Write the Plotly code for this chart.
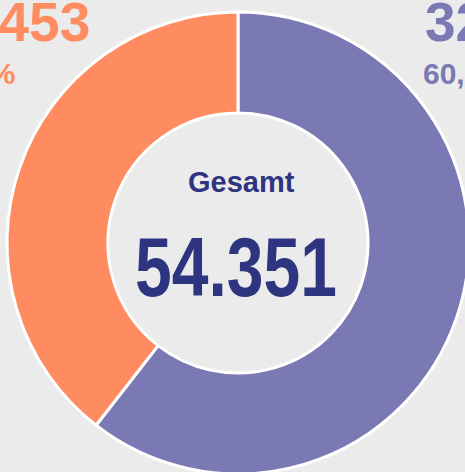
import plotly.graph_objects as go

labels = ["Gruppe A", "Gruppe B"]
values = [32898, 21453]
value_text = ["32.898", "21.453"]
pct_text = ["60,5 %", "39,5 %"]
colors = ["#7b79b3", "#ff8c61"]
total_text = "54.351"
center_title = "Gesamt"

W, H = 480, 480  # page is clipped to the 465x472 window

def px(p):
    return p / W

def py(p):
    return 1 - p / H

fig = go.Figure()
fig.add_trace(go.Pie(
    labels=labels, values=values, sort=False, direction="clockwise", rotation=0,
    hole=0.563, textinfo="none", hoverinfo="label+value+percent",
    marker=dict(colors=colors, line=dict(color="white", width=3)),
    domain=dict(x=[px(7), px(469)], y=[py(474), py(12)]),
    showlegend=False,
))

font_b = "Liberation Sans, Arial, sans-serif"

ann = []
ann.append(dict(text="<b>%s</b>" % center_title, x=px(241), y=py(182), xref="paper", yref="paper",
                xanchor="center", yanchor="middle", showarrow=False,
                font=dict(family=font_b, size=29, color="#2e3580")))
ann.append(dict(text="<b>%s</b>" % total_text, x=px(236), y=py(267), xref="paper", yref="paper",
                xanchor="center", yanchor="middle", showarrow=False,
                font=dict(family=font_b, size=66, color="#2e3580")))
# purple labels (right, left aligned)
ann.append(dict(text="<b>%s</b>" % value_text[0], x=px(423), y=py(22), xref="paper", yref="paper",
                xanchor="left", yanchor="middle", showarrow=False,
                font=dict(family=font_b, size=55, color=colors[0])))
ann.append(dict(text="<b>%s</b>" % pct_text[0], x=px(421), y=py(73), xref="paper", yref="paper",
                xanchor="left", yanchor="middle", showarrow=False,
                font=dict(family=font_b, size=30, color=colors[0])))
# orange labels (left, right aligned)
ann.append(dict(text="<b>%s</b>" % value_text[1], x=px(92), y=py(22), xref="paper", yref="paper",
                xanchor="right", yanchor="middle", showarrow=False,
                font=dict(family=font_b, size=55, color=colors[1])))
ann.append(dict(text="<b>%s</b>" % pct_text[1], x=px(17), y=py(73), xref="paper", yref="paper",
                xanchor="right", yanchor="middle", showarrow=False,
                font=dict(family=font_b, size=30, color=colors[1])))

fig.update_layout(
    width=W, height=H, margin=dict(l=0, r=0, t=0, b=0),
    paper_bgcolor="#ebebeb", plot_bgcolor="#ebebeb",
    annotations=ann,
)

post = """
document.body.style.margin = '0';
document.body.style.overflow = 'hidden';
document.documentElement.style.overflow = 'hidden';
document.body.style.background = '#ebebeb';
function stretchTotal() {
  document.querySelectorAll('.annotation-text').forEach(function (t) {
    if (t.textContent.trim() === '%s') {
      t.style.transformBox = 'fill-box';
      t.style.transformOrigin = 'center';
      t.style.transform = 'scaleY(1.27)';
    }
  });
}
stretchTotal();
setTimeout(stretchTotal, 50);
setTimeout(stretchTotal, 300);
""" % total_text

fig.write_html("out.html", config={"displayModeBar": False}, post_script=post)
